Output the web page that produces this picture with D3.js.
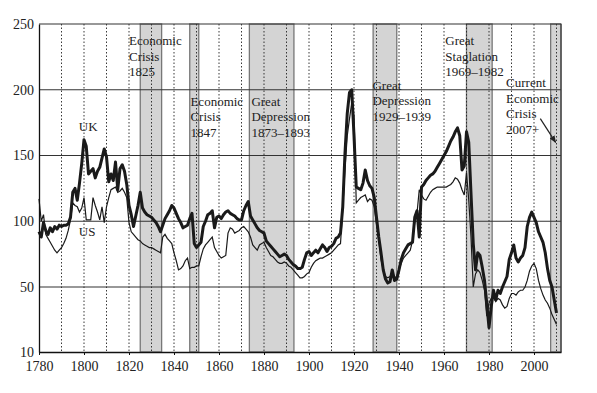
<!DOCTYPE html>
<html>
<head>
<meta charset="utf-8">
<script src="https://cdn.jsdelivr.net/npm/d3@7"></script>
<style>
  body { margin: 0; background: #fff; }
  text { font-family: "Liberation Serif", "DejaVu Serif", serif; fill: #222; }
</style>
</head>
<body>
<script>
// crisis bands [start, end]
const bands = [[1825, 1834.5], [1847, 1851], [1873.5, 1893.3], [1928.5, 1939], [1970, 1981.4], [2007.4, 2012]];

const yTicks = [10, 50, 100, 150, 200, 250];
const xTicks = [1780, 1800, 1820, 1840, 1860, 1880, 1900, 1920, 1940, 1960, 1980, 2000];

// UK (thick line)
const ukData = [[1780,92],[1781,88],[1782,99],[1783,93],[1784,90],[1785,95],[1786,92],[1787,96],[1788,94],[1789,97],
  [1790,96],[1791,97],[1792,97],[1793,98],[1794,103],[1795,122],[1796,125],[1797,116],[1798,129],[1799,144],
  [1800,162],[1801,157],[1802,136],[1803,138],[1804,140],[1805,133],[1806,138],[1807,141],[1808,148],[1809,155],
  [1810,149],[1811,130],[1812,136],[1813,131],[1814,145],[1815,124],[1816,140],[1817,143],[1818,138],[1819,128],
  [1820,112],[1821,105],[1822,96],[1823,104],[1824,112],[1825,122],[1826,110],[1827,107],[1828,105],[1829,104],
  [1830,103],[1831,101],[1832,99],[1833,96],[1834,92],[1835,97],[1836,102],[1837,105],[1838,108],[1839,112],
  [1840,110],[1841,106],[1842,102],[1843,99],[1844,95],[1845,96],[1846,97],[1847,102],[1848,106],[1849,83],
  [1850,80],[1851,82],[1852,84],[1853,96],[1854,100],[1855,105],[1856,106],[1857,108],[1858,95],[1859,103],
  [1860,104],[1861,102],[1862,105],[1863,107],[1864,108],[1865,106],[1866,105],[1867,104],[1868,102],[1869,101],
  [1870,101],[1871,108],[1872,112],[1873,115],[1874,104],[1875,101],[1876,98],[1877,95],[1878,93],[1879,92],
  [1880,91],[1881,85],[1882,83],[1883,81],[1884,79],[1885,77],[1886,75],[1887,73],[1888,74],[1889,75],
  [1890,74],[1891,71],[1892,69],[1893,67],[1894,66],[1895,64],[1896,64],[1897,65],[1898,71],[1899,76],
  [1900,77],[1901,74],[1902,76],[1903,78],[1904,76],[1905,79],[1906,82],[1907,80],[1908,77],[1909,80],
  [1910,81],[1911,83],[1912,87],[1913,88],[1914,91],[1915,111],[1916,152],[1917,182],[1918,198],[1919,200],
  [1920,165],[1921,126],[1922,125],[1923,124],[1924,129],[1925,139],[1926,131],[1927,127],[1928,125],[1929,118],
  [1930,103],[1931,88],[1932,76],[1933,63],[1934,56],[1935,53],[1936,54],[1937,63],[1938,55],[1939,56],
  [1940,63],[1941,71],[1942,76],[1943,79],[1944,82],[1945,83],[1946,84],[1947,103],[1948,108],[1949,88],
  [1950,126],[1951,128],[1952,131],[1953,133],[1954,135],[1955,136],[1956,138],[1957,141],[1958,144],[1959,147],
  [1960,150],[1961,153],[1962,157],[1963,161],[1964,164],[1965,168],[1966,171],[1967,165],[1968,139],[1969,142],
  [1970,168],[1971,160],[1972,121],[1973,83],[1974,63],[1975,76],[1976,74],[1977,65],[1978,55],[1979,40],
  [1980,25],[1981,38],[1982,48],[1983,42],[1984,48],[1985,46],[1986,50],[1987,54],[1988,58],[1989,71],
  [1990,76],[1991,82],[1992,72],[1993,69],[1994,72],[1995,74],[1996,80],[1997,96],[1998,103],[1999,107],
  [2000,103],[2001,99],[2002,92],[2003,88],[2004,84],[2005,76],[2006,64],[2007,55],[2008,50],[2009,42],[2010,34]];

// US (thin line)
const usData = [[1780,117],[1781,100],[1782,105],[1783,90],[1784,87],[1785,84],[1786,81],[1787,78],[1788,76],[1789,78],
  [1790,80],[1791,83],[1792,87],[1793,93],[1794,101],[1795,114],[1796,112],[1797,111],[1798,107],[1799,110],
  [1800,118],[1801,101],[1802,101],[1803,101],[1804,118],[1805,112],[1806,107],[1807,101],[1808,111],[1809,99],
  [1810,111],[1811,118],[1812,124],[1813,125],[1814,126],[1815,122],[1816,123],[1817,125],[1818,122],[1819,118],
  [1820,99],[1821,92],[1822,90],[1823,88],[1824,86],[1825,85],[1826,83],[1827,82],[1828,81],[1829,80],
  [1830,80],[1831,79],[1832,78],[1833,77],[1834,76],[1835,88],[1836,90],[1837,87],[1838,85],[1839,83],
  [1840,76],[1841,70],[1842,63],[1843,64],[1844,66],[1845,70],[1846,72],[1847,64],[1848,65],[1849,65],
  [1850,66],[1851,66],[1852,73],[1853,79],[1854,82],[1855,84],[1856,86],[1857,88],[1858,80],[1859,77],
  [1860,74],[1861,72],[1862,73],[1863,74],[1864,91],[1865,95],[1866,94],[1867,91],[1868,92],[1869,93],
  [1870,95],[1871,96],[1872,94],[1873,92],[1874,88],[1875,82],[1876,80],[1877,78],[1878,82],[1879,83],
  [1880,84],[1881,80],[1882,77],[1883,74],[1884,73],[1885,71],[1886,69],[1887,68],[1888,68],[1889,69],
  [1890,68],[1891,66],[1892,65],[1893,63],[1894,61],[1895,59],[1896,57],[1897,57],[1898,58],[1899,60],
  [1900,61],[1901,65],[1902,68],[1903,70],[1904,71],[1905,72],[1906,72],[1907,73],[1908,74],[1909,75],
  [1910,76],[1911,78],[1912,80],[1913,82],[1914,83],[1915,110],[1916,140],[1917,165],[1918,178],[1919,190],
  [1920,180],[1921,114],[1922,116],[1923,118],[1924,119],[1925,120],[1926,115],[1927,117],[1928,116],[1929,111],
  [1930,98],[1931,86],[1932,71],[1933,63],[1934,58],[1935,57],[1936,58],[1937,61],[1938,57],[1939,58],
  [1940,63],[1941,68],[1942,72],[1943,74],[1944,76],[1945,78],[1946,85],[1947,99],[1948,106],[1949,124],
  [1950,120],[1951,117],[1952,116],[1953,119],[1954,122],[1955,124],[1956,125],[1957,126],[1958,126],[1959,126],
  [1960,126],[1961,126],[1962,127],[1963,128],[1964,130],[1965,133],[1966,132],[1967,129],[1968,124],[1969,120],
  [1970,137],[1971,116],[1972,88],[1973,50],[1974,60],[1975,63],[1976,61],[1977,55],[1978,48],[1979,32],
  [1980,40],[1981,43],[1982,44],[1983,41],[1984,43],[1985,42],[1986,39],[1987,37],[1988,38],[1989,43],
  [1990,46],[1991,46],[1992,45],[1993,47],[1994,48],[1995,48],[1996,50],[1997,55],[1998,62],[1999,66],
  [2000,68],[2001,64],[2002,55],[2003,49],[2004,45],[2005,42],[2006,40],[2007,37],[2008,33],[2009,30],[2010,27]];

// annotations: [year, lines, first baseline value]
const notes = [
  [1820, ["Economic", "Crisis", "1825"], 234],
  [1847.3, ["Economic", "Crisis", "1847"], 188],
  [1874.4, ["Great", "Depression", "1873\u20131893"], 188],
  [1928.2, ["Great", "Depression", "1929\u20131939"], 200],
  [1960.6, ["Great", "Staglation", "1969\u20131982"], 234],
  [1987.6, ["Current", "Economic", "Crisis", "2007+"], 202]
];

const width = 597, height = 393;
const svg = d3.select("body").append("svg").attr("width", width).attr("height", height);

const x = d3.scaleLinear().domain([1780, 2012]).range([39, 561]);
const y = d3.scaleLinear().domain([10, 50, 250]).range([352, 287, 24]);

// bands
svg.selectAll("rect.band").data(bands).enter().append("rect")
    .attr("class", "band")
    .attr("x", d => x(d[0]))
    .attr("y", y(250))
    .attr("width", d => x(d[1]) - x(d[0]))
    .attr("height", y(10) - y(250))
    .style("fill", "#d4d4d4")
    .style("stroke", "#777")
    .style("stroke-width", 1.3);

// vertical dotted gridlines
svg.selectAll("line.vgrid").data(d3.range(1790, 2011, 10)).enter().append("line")
    .attr("x1", d => x(d)).attr("x2", d => x(d))
    .attr("y1", y(250)).attr("y2", y(10))
    .style("stroke", "#222")
    .style("stroke-width", 0.9)
    .style("stroke-dasharray", "1.5,2");

// horizontal gridlines
svg.selectAll("line.hgrid").data(yTicks.slice(1)).enter().append("line")
    .attr("x1", x(1780)).attr("x2", x(2012))
    .attr("y1", d => y(d)).attr("y2", d => y(d))
    .style("stroke", "#333")
    .style("stroke-width", 1.1);

// frame
svg.append("line").attr("x1", x(2012)).attr("x2", x(2012)).attr("y1", y(250)).attr("y2", y(10))
    .style("stroke", "#333").style("stroke-width", 1.1);

const line = d3.line().x(d => x(d[0])).y(d => y(d[1]));

svg.append("path").datum(usData).attr("d", line)
    .style("fill", "none").style("stroke", "#1a1a1a").style("stroke-width", 1.2);
svg.append("path").datum(ukData).attr("d", line)
    .style("fill", "none").style("stroke", "#1a1a1a").style("stroke-width", 3)
    .style("stroke-linejoin", "round");

// axes
const yAxis = svg.append("g").attr("transform", "translate(" + x(1780) + ",0)")
    .call(d3.axisLeft(y).tickValues(yTicks).tickSize(0).tickPadding(5));
yAxis.select(".domain").style("stroke", "#111").style("stroke-width", 1.3);
yAxis.selectAll("text").style("font-size", "14px").style("font-family", "Liberation Serif, serif").attr("fill", "#222");

const xAxis = svg.append("g").attr("transform", "translate(0," + y(10) + ")")
    .call(d3.axisBottom(x).tickValues(xTicks).tickFormat(d3.format("d")).tickSize(3).tickSizeOuter(0).tickPadding(6));
xAxis.select(".domain").style("stroke", "#111").style("stroke-width", 1.3);
xAxis.selectAll("line").style("stroke", "#111");
xAxis.selectAll("text").style("font-size", "14px").style("font-family", "Liberation Serif, serif").attr("fill", "#222");

// annotations
notes.forEach(n => {
  const t = svg.append("text").attr("x", x(n[0])).attr("y", y(n[2])).style("font-size", "13px");
  n[1].forEach((s, i) => {
    t.append("tspan").attr("x", x(n[0])).attr("dy", i === 0 ? 0 : 15.5).text(s);
  });
});

svg.append("text").attr("x", x(1797.7)).attr("y", y(169)).style("font-size", "13px").text("UK");
svg.append("text").attr("x", x(1797.7)).attr("y", y(89)).style("font-size", "13px").text("US");

// arrow
svg.append("defs").append("marker")
    .attr("id", "arr").attr("viewBox", "0 0 10 10").attr("refX", 9).attr("refY", 5)
    .attr("markerWidth", 6).attr("markerHeight", 6).attr("orient", "auto")
  .append("path").attr("d", "M0,1L10,5L0,9Z").style("fill", "#222");
svg.append("line")
    .attr("x1", x(2002.8)).attr("y1", y(178))
    .attr("x2", x(2009.6)).attr("y2", y(160))
    .style("stroke", "#222").style("stroke-width", 1.2)
    .attr("marker-end", "url(#arr)");
</script>
</body>
</html>
